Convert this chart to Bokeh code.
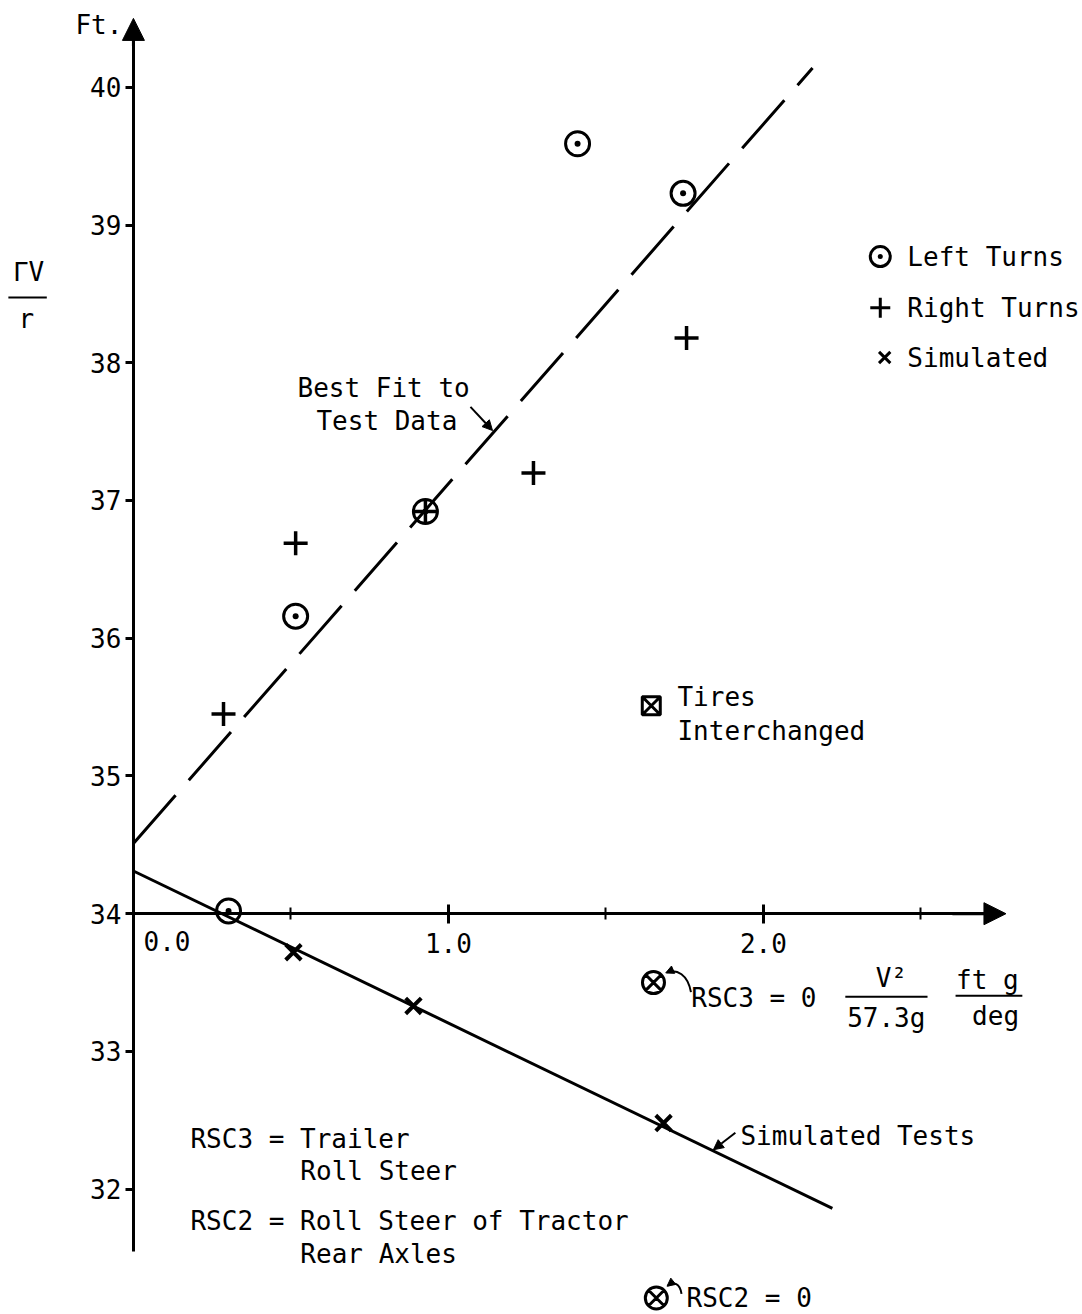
from bokeh.plotting import figure
from bokeh.models import FixedTicker, Arrow, NormalHead
from bokeh.core.properties import value
from bokeh.embed import file_html
from bokeh.resources import INLINE

# ---------------- data ----------------
left_x = [0.302, 0.515, 0.927, 1.41, 1.745]
left_y = [34.02, 36.16, 36.92, 39.59, 39.23]
right_x = [0.286, 0.515, 0.927, 1.27, 1.756]
right_y = [35.45, 36.69, 36.92, 37.20, 38.18]
sim_x = [0.508, 0.889, 1.683]
sim_y = [33.72, 33.33, 32.48]
tires_x = [1.644]
tires_y = [35.51]
rsc3_x = [1.651]
rsc3_y = [33.50]
rsc2_x = [1.660]
rsc2_y = [31.21]
fit_x = [0.0, 2.156]
fit_y = [34.51, 40.14]
simline_x = [0.0, 2.219]
simline_y = [34.31, 31.86]
y_ticks = [32, 33, 34, 35, 36, 37, 38, 39, 40]
x_major = [1, 2]
x_minor = [0.5, 1.5, 2.5]
x_labels = {1: "1.0", 2: "2.0"}

FONT = "DejaVu Sans Mono"
FS = "26px"

p = figure(width=1082, height=1314, x_range=(-0.422, 3.013), y_range=(31.09, 40.63),
           output_backend="svg", toolbar_location=None, min_border=0)
p.outline_line_color = None
p.grid.visible = False
p.background_fill_color = "white"
p.border_fill_color = "white"

# ---- axes crossing at (0, 34)
xa = p.xaxis[0]
xa.fixed_location = 34
xa.bounds = (0, 2.76)
xa.ticker = FixedTicker(ticks=x_major, minor_ticks=x_minor)
xa.major_label_overrides = x_labels
xa.axis_line_width = 3
xa.major_tick_line_width = 3
xa.minor_tick_line_width = 2
xa.major_tick_in = 9
xa.major_tick_out = 10
xa.minor_tick_in = 6
xa.minor_tick_out = 6
xa.major_label_standoff = 9
xa.major_label_text_font = FONT
xa.major_label_text_font_size = FS
xa.major_label_text_color = "black"

ya = p.yaxis[0]
ya.fixed_location = 0
ya.bounds = (31.55, 40.45)
ya.ticker = FixedTicker(ticks=y_ticks, minor_ticks=[])
ya.axis_line_width = 3
ya.major_tick_line_width = 3
ya.major_tick_in = 0
ya.major_tick_out = 8
ya.major_label_standoff = 4
ya.major_label_text_font = FONT
ya.major_label_text_font_size = FS
ya.major_label_text_color = "black"

# axis arrowheads
p.add_layout(Arrow(end=NormalHead(size=22, fill_color="black", line_color="black"),
                   x_start=0, y_start=40.3, x_end=0, y_end=40.5, line_width=3))
p.add_layout(Arrow(end=NormalHead(size=22, fill_color="black", line_color="black"),
                   x_start=2.6, y_start=34, x_end=2.77, y_end=34, line_width=3))

# ---- lines
p.line(fit_x, fit_y, line_color="black", line_width=3, line_dash="64 20")
p.line(simline_x, simline_y, line_color="black", line_width=3)

# ---- markers
p.scatter(left_x, left_y, marker="circle_dot", size=24, line_width=3,
          line_color="black", fill_alpha=0)
p.scatter(right_x, right_y, marker="cross", size=24, line_width=3.5, line_color="black")
p.scatter(sim_x, sim_y, marker="x", size=22, line_width=4, line_color="black")
p.scatter(tires_x, tires_y, marker="square_x", size=18, line_width=3,
          line_color="black", fill_alpha=0)
p.scatter(rsc3_x, rsc3_y, marker="circle_x", size=22, line_width=3,
          line_color="black", fill_alpha=0)
p.scatter(rsc2_x, rsc2_y, marker="circle_x", size=22, line_width=3,
          line_color="black", fill_alpha=0)

# legend markers
p.scatter([2.371], [38.771], marker="circle_dot", size=20, line_width=3,
          line_color="black", fill_alpha=0)
p.scatter([2.371], [38.40], marker="cross", size=20, line_width=3, line_color="black")
p.scatter([2.385], [38.038], marker="x", size=16, line_width=3, line_color="black")


def txt(x, y, s, align="left", baseline="middle", size=FS):
    p.text([x], [y], text=[s], text_font=value(FONT), text_font_size=size,
           text_align=align, text_baseline=baseline, text_color="black")


# legend texts
txt(2.457, 38.771, "Left Turns")
txt(2.457, 38.40, "Right Turns")
txt(2.457, 38.038, "Simulated")

# axis titles
txt(-0.184, 40.45, "Ft.")
txt(-0.333, 38.66, "ΓV", align="center")
p.segment([-0.397], [38.473], [-0.275], [38.473], line_color="black", line_width=2)
txt(-0.340, 38.32, "r", align="center")
txt(0.032, 33.80, "0.0")

# annotations
txt(0.521, 37.82, "Best Fit to")
txt(0.581, 37.58, "Test Data")
p.add_layout(Arrow(end=NormalHead(size=10, fill_color="black", line_color="black"),
                   x_start=1.07, y_start=37.68, x_end=1.14, y_end=37.508, line_width=2))

txt(1.727, 35.57, "Tires")
txt(1.727, 35.33, "Interchanged")

txt(1.771, 33.39, "RSC3 = 0")
txt(2.406, 33.53, "V²", align="center")
p.segment([2.260], [33.397], [2.521], [33.397], line_color="black", line_width=2)
txt(2.390, 33.245, "57.3g", align="center")
txt(2.711, 33.52, "ft g", align="center")
p.segment([2.610], [33.404], [2.822], [33.404], line_color="black", line_width=2)
txt(2.737, 33.26, "deg", align="center")
p.bezier(x0=[1.770], y0=[33.43], x1=[1.694], y1=[33.575],
         cx0=[1.760], cy0=[33.56], cx1=[1.725], cy1=[33.60], line_color="black", line_width=2)
p.add_layout(Arrow(end=NormalHead(size=8, fill_color="black", line_color="black"),
                   x_start=1.705, y_start=33.585, x_end=1.690, y_end=33.57, line_width=2))

txt(1.927, 32.388, "Simulated Tests")
p.add_layout(Arrow(end=NormalHead(size=10, fill_color="black", line_color="black"),
                   x_start=1.911, y_start=32.41, x_end=1.841, y_end=32.286, line_width=2))

txt(0.181, 32.366, "RSC3 = Trailer")
txt(0.530, 32.134, "Roll Steer")
txt(0.181, 31.771, "RSC2 = Roll Steer of Tractor")
txt(0.530, 31.531, "Rear Axles")

txt(1.756, 31.211, "RSC2 = 0")
p.bezier(x0=[1.740], y0=[31.24], x1=[1.697], y1=[31.30],
         cx0=[1.735], cy0=[31.32], cx1=[1.715], cy1=[31.33], line_color="black", line_width=2)
p.add_layout(Arrow(end=NormalHead(size=8, fill_color="black", line_color="black"),
                   x_start=1.705, y_start=31.315, x_end=1.694, y_end=31.295, line_width=2))

open("out.html", "w").write(file_html(p, INLINE))
